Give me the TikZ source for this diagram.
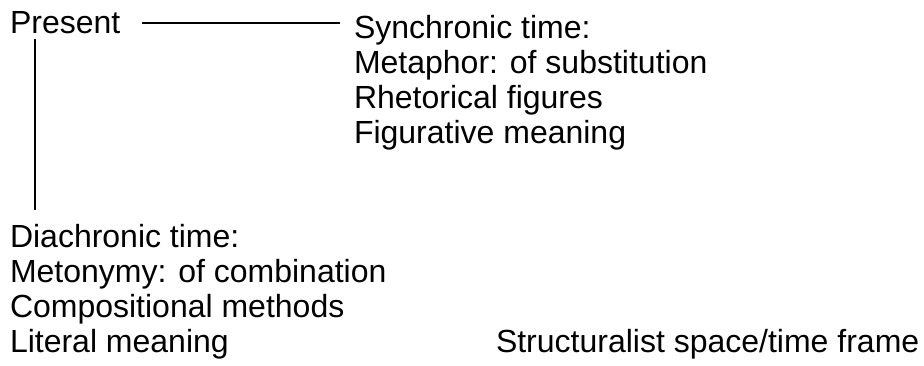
\documentclass[tikz,border=0pt]{standalone}
\usepackage{fontspec}
\setmainfont{Liberation Sans}
\begin{document}
\begin{tikzpicture}[x=1pt,y=-1pt,
  txt/.style={anchor=base west,inner sep=0pt,outer sep=0pt,
              font=\fontsize{32}{35}\selectfont},
  link/.style={line width=2pt}]
\useasboundingbox (0,0) rectangle (924,365);

% root term
\node[txt] (present) at (10,33) {Present};

% synchronic branch
\node[txt] (sync)  at (354,38)  {Synchronic time:};
\node[txt] (sync2) at (354,73)  {Metaphor: of substitution};
\node[txt] (sync3) at (354,108) {Rhetorical figures};
\node[txt] (sync4) at (354,143) {Figurative meaning};

% diachronic branch
\node[txt] (diach)  at (10,247) {Diachronic time:};
\node[txt] (diach2) at (10,282) {Metonymy: of combination};
\node[txt] (diach3) at (10,317) {Compositional methods};
\node[txt] (diach4) at (10,352) {Literal meaning};

% caption
\node[txt] (frame) at (496,352) {Structuralist space/time frame};

% connectors
\coordinate (hstart) at ([xshift=132pt,yshift=10pt]present.base west);
\coordinate (hend)   at ([xshift=-14pt]hstart -| sync.west);
\draw[link] (hstart) -- (hend);

\coordinate (vstart) at ([xshift=25pt,yshift=-6pt]present.base west);
\coordinate (dtop)   at ([yshift=14pt]diach.north);
\draw[link] (vstart) -- (vstart |- dtop);
\end{tikzpicture}
\end{document}
